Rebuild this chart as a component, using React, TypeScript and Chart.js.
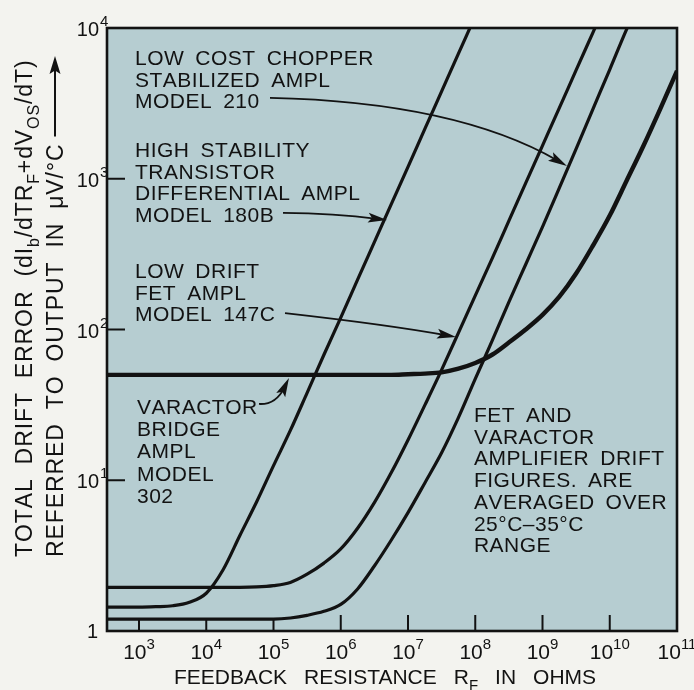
import React, { useEffect, useRef } from "react";
import { Chart, registerables } from "chart.js";

Chart.register(...registerables);

// Feedback resistance (ohms), quarter-decade steps from 10^2.52 to 10^11
const R_OHMS = [
  331, 562, 1e3, 1.78e3, 3.16e3, 5.62e3, 1e4, 1.78e4, 3.16e4, 5.62e4,
  1e5, 1.78e5, 3.16e5, 5.62e5, 1e6, 1.78e6, 3.16e6, 5.62e6, 1e7, 1.78e7,
  3.16e7, 5.62e7, 1e8, 1.78e8, 3.16e8, 5.62e8, 1e9, 1.78e9, 3.16e9, 5.62e9,
  1e10, 1.78e10, 3.16e10, 5.62e10, 1e11,
];

// Total drift error (uV/degC)
const MODEL_180B = [
  1.44, 1.44, 1.44, 1.45, 1.47, 1.55, 1.78, 2.55, 4.3, 7.2,
  12.5, 21.4, 38, 68, 120, 214, 380, 676, 1200, 2140,
  3800, 6760, 12000, 21400, null, null, null, null, null, null,
  null, null, null, null, null,
];
const MODEL_147C = [
  1.95, 1.95, 1.95, 1.95, 1.95, 1.95, 1.95, 1.95, 1.95, 1.96,
  2.0, 2.1, 2.38, 2.82, 3.5, 4.8, 7.1, 11.2, 18.5, 31.5,
  54, 95, 168, 295, 525, 935, 1660, 2950, 5250, 9330,
  16600, 29500, null, null, null,
];
const MODEL_210 = [
  1.2, 1.2, 1.2, 1.2, 1.2, 1.2, 1.2, 1.2, 1.2, 1.2,
  1.2, 1.22, 1.27, 1.35, 1.5, 1.9, 2.7, 4.0, 6.1, 9.6,
  15.2, 26, 47, 84, 152, 270, 480, 870, 1580, 2900,
  5300, 9800, 17000, null, null,
];
const VARACTOR_302 = [
  50, 50, 50, 50, 50, 50, 50, 50, 50, 50,
  50, 50, 50, 50, 50, 50, 50, 50, 50.5, 51,
  52, 55, 60, 68, 82, 100, 125, 165, 235, 360,
  570, 970, 1650, 2900, 5200,
];

const X_DECADES = [3, 4, 5, 6, 7, 8, 9, 10, 11];
const Y_DECADES = [0, 1, 2, 3, 4];

const FONT = '"Liberation Sans", Arial, sans-serif';
const INK = "#121212";
const PAGE_BG = "#f3f3ef";
const PLOT_BG = "#b6cdd1";

// Annotation text blocks, anchored in log10 data units (first line baseline)
const LABEL_BLOCKS = [
  { lx: 2.94, ly: 3.755, pitch: 21.7, lines: ["LOW COST CHOPPER", "STABILIZED AMPL", "MODEL 210"] },
  { lx: 2.94, ly: 3.144, pitch: 21.7, lines: ["HIGH STABILITY", "TRANSISTOR", "DIFFERENTIAL AMPL", "MODEL 180B"] },
  { lx: 2.94, ly: 2.342, pitch: 21.7, lines: ["LOW DRIFT", "FET AMPL", "MODEL 147C"] },
  { lx: 2.97, ly: 1.44, pitch: 22.2, lines: ["VARACTOR", "BRIDGE", "AMPL", "MODEL", "302"] },
  { lx: 7.98, ly: 1.386, pitch: 21.7, lines: ["FET AND", "VARACTOR", "AMPLIFIER DRIFT", "FIGURES. ARE", "AVERAGED OVER", "25°C–35°C", "RANGE"] },
];

// Leader arrows: start, middle, tip (log10 data units)
const ARROWS = [
  [[4.948, 3.536], [7.431, 3.41], [9.364, 3.085]],
  [[5.141, 2.773], [5.914, 2.76], [6.688, 2.726]],
  [[5.171, 2.109], [6.584, 2.03], [7.714, 1.95]],
  [[4.784, 1.506], [5.022, 1.546], [5.23, 1.678]],
];

type Run = { t: string; k?: "sub" | "sup" };

const Y_TITLE_1: Run[] = [
  { t: "TOTAL DRIFT ERROR (dI" }, { t: "b", k: "sub" }, { t: "/dTR" }, { t: "F", k: "sub" },
  { t: "+dV" }, { t: "OS", k: "sub" }, { t: "/dT)" },
];
const Y_TITLE_2: Run[] = [{ t: "REFERRED TO OUTPUT IN μV/°C" }];
const X_TITLE: Run[] = [{ t: "FEEDBACK RESISTANCE R" }, { t: "F", k: "sub" }, { t: " IN OHMS" }];

function wordWidth(ctx: CanvasRenderingContext2D, wd: string, ls: number) {
  if (!ls) return ctx.measureText(wd).width;
  let w = 0;
  for (const ch of wd) w += ctx.measureText(ch).width + ls;
  return w;
}

function drawWord(ctx: CanvasRenderingContext2D, wd: string, x: number, y: number, ls: number) {
  if (!ls) {
    ctx.fillText(wd, x, y);
    return;
  }
  let cx = x;
  for (const ch of wd) {
    ctx.fillText(ch, cx, y);
    cx += ctx.measureText(ch).width + ls;
  }
}

function runWidth(ctx: CanvasRenderingContext2D, t: string, space: number, ls: number) {
  let w = 0;
  t.split(" ").forEach((wd, i) => {
    if (i > 0) w += space;
    if (wd) w += wordWidth(ctx, wd, ls);
  });
  return w;
}

function drawRuns(
  ctx: CanvasRenderingContext2D,
  runs: Run[],
  x: number,
  y: number,
  size: number,
  small: number,
  align: "left" | "center" | "right",
  space: number,
  ls = 0
) {
  const fontFor = (r: Run) => `${r.k ? small : size}px ${FONT}`;
  const widths = runs.map((r) => {
    ctx.font = fontFor(r);
    return runWidth(ctx, r.t, r.k ? space * 0.7 : space, ls);
  });
  const total = widths.reduce((a, b) => a + b, 0);
  let cx = align === "center" ? x - total / 2 : align === "right" ? x - total : x;
  ctx.textAlign = "left";
  ctx.textBaseline = "alphabetic";
  runs.forEach((r, i) => {
    ctx.font = fontFor(r);
    const dy = r.k === "sub" ? size * 0.3 : r.k === "sup" ? -size * 0.5 : 0;
    const sp = r.k ? space * 0.7 : space;
    let wx = cx;
    r.t.split(" ").forEach((wd, j) => {
      if (j > 0) wx += sp;
      if (wd) {
        drawWord(ctx, wd, wx, y + dy, ls);
        wx += wordWidth(ctx, wd, ls);
      }
    });
    cx += widths[i];
  });
  return total;
}

function arrowHead(ctx: CanvasRenderingContext2D, tx: number, ty: number, ang: number, len: number, hw: number) {
  const c = Math.cos(ang), s = Math.sin(ang);
  ctx.beginPath();
  ctx.moveTo(tx, ty);
  ctx.lineTo(tx - len * c - hw * s, ty - len * s + hw * c);
  ctx.lineTo(tx - len * c * 0.8, ty - len * s * 0.8);
  ctx.lineTo(tx - len * c + hw * s, ty - len * s - hw * c);
  ctx.closePath();
  ctx.fill();
}

const paperPlugin = {
  id: "paper",
  beforeDraw(chart: any) {
    const { ctx, chartArea: a, width, height } = chart;
    ctx.save();
    ctx.fillStyle = PAGE_BG;
    ctx.fillRect(0, 0, width, height);
    ctx.fillStyle = PLOT_BG;
    ctx.fillRect(a.left, a.top, a.right - a.left, a.bottom - a.top);
    ctx.restore();
  },
  afterDatasetsDraw(chart: any) {
    const { ctx, chartArea: a } = chart;
    const xs = chart.scales.x;
    const ys = chart.scales.y;
    const px = (lx: number) => xs.getPixelForValue(Math.pow(10, lx));
    const py = (ly: number) => ys.getPixelForValue(Math.pow(10, ly));
    ctx.save();
    ctx.fillStyle = INK;
    ctx.strokeStyle = INK;

    // frame
    ctx.lineWidth = 2.6;
    ctx.strokeRect(a.left, a.top, a.right - a.left, a.bottom - a.top);

    // inward ticks
    ctx.lineWidth = 2;
    X_DECADES.forEach((e) => {
      const x = px(e);
      if (x > a.right - 3) return;
      ctx.beginPath();
      ctx.moveTo(x, a.bottom);
      ctx.lineTo(x, a.bottom - (e <= 5 ? 11 : 16));
      ctx.stroke();
    });
    Y_DECADES.forEach((e) => {
      const y = py(e);
      if (y > a.bottom - 3 || y < a.top + 3) return;
      ctx.beginPath();
      ctx.moveTo(a.left, y);
      ctx.lineTo(a.left + 18, y);
      ctx.stroke();
    });

    // x tick labels
    X_DECADES.forEach((e) => {
      const x = px(e);
      drawRuns(ctx, [{ t: "10" }, { t: String(e), k: "sup" }], x, a.bottom + 28, 21, 15, "center", 0);
    });
    // y tick labels
    Y_DECADES.forEach((e) => {
      const y = py(e);
      ctx.textAlign = "right";
      ctx.textBaseline = "alphabetic";
      ctx.font = `20px ${FONT}`;
      if (e === 0) {
        ctx.fillText("1", a.left - 9, y + 7);
        return;
      }
      ctx.fillText("10", a.left - 8, y + 8);
      ctx.textAlign = "left";
      ctx.font = `15px ${FONT}`;
      ctx.fillText(String(e), a.left - 7, y - 2);
    });

    // axis titles
    drawRuns(ctx, X_TITLE, 385, a.bottom + 53, 21, 15, "center", 17);
    ctx.save();
    ctx.translate(32, 557);
    ctx.rotate(-Math.PI / 2);
    drawRuns(ctx, Y_TITLE_1, 0, 0, 23, 16, "left", 14, 0.9);
    ctx.restore();
    ctx.save();
    ctx.translate(63, 557);
    ctx.rotate(-Math.PI / 2);
    const w2 = drawRuns(ctx, Y_TITLE_2, 0, 0, 23, 16, "left", 14, 0.9);
    ctx.restore();
    const arrowX = 55;
    ctx.lineWidth = 2;
    ctx.beginPath();
    ctx.moveTo(arrowX, 557 - w2 - 7);
    ctx.lineTo(arrowX, 70);
    ctx.stroke();
    arrowHead(ctx, arrowX, 56, -Math.PI / 2, 18, 5.5);

    // text blocks
    LABEL_BLOCKS.forEach((b) => {
      const x = px(b.lx);
      const y0 = py(b.ly);
      b.lines.forEach((ln, i) => {
        drawRuns(ctx, [{ t: ln }], x, y0 + i * b.pitch, 21, 15, "left", 11, 0.5);
      });
    });

    // leader arrows
    ctx.lineWidth = 1.8;
    ARROWS.forEach((pts) => {
      const P = pts.map(([lx, ly]) => [px(lx), py(ly)]);
      const C = [2 * P[1][0] - (P[0][0] + P[2][0]) / 2, 2 * P[1][1] - (P[0][1] + P[2][1]) / 2];
      const ang = Math.atan2(P[2][1] - C[1], P[2][0] - C[0]);
      const endX = P[2][0] - 10 * Math.cos(ang);
      const endY = P[2][1] - 10 * Math.sin(ang);
      ctx.beginPath();
      ctx.moveTo(P[0][0], P[0][1]);
      ctx.quadraticCurveTo(C[0], C[1], endX, endY);
      ctx.stroke();
      arrowHead(ctx, P[2][0], P[2][1], ang, 19, 5);
    });
    ctx.restore();
  },
};

function series(values: (number | null)[]) {
  const out: { x: number; y: number }[] = [];
  R_OHMS.forEach((r, i) => {
    const v = values[i];
    if (v != null) out.push({ x: r, y: v });
  });
  return out;
}

export default function App() {
  const ref = useRef<HTMLCanvasElement>(null);
  useEffect(() => {
    document.body.style.margin = "0";
    document.body.style.background = PAGE_BG;
    const canvas = ref.current!;
    const common = {
      borderColor: INK,
      pointRadius: 0,
      fill: false,
      cubicInterpolationMode: "monotone" as const,
    };
    const chart = new Chart(canvas, {
      type: "line",
      data: {
        datasets: [
          { label: "Model 180B", data: series(MODEL_180B), borderWidth: 3.2, ...common },
          { label: "Model 147C", data: series(MODEL_147C), borderWidth: 3.2, ...common },
          { label: "Model 210", data: series(MODEL_210), borderWidth: 3.2, ...common },
          { label: "Model 302", data: series(VARACTOR_302), borderWidth: 4.4, ...common },
        ],
      },
      options: {
        animation: false,
        responsive: false,
        maintainAspectRatio: false,
        events: [],
        layout: { padding: { left: 107, top: 28, right: 17, bottom: 59 } },
        scales: {
          x: { type: "logarithmic", min: Math.pow(10, 2.524), max: 1e11, display: false },
          y: { type: "logarithmic", min: 1, max: 1e4, display: false },
        },
        plugins: { legend: { display: false }, tooltip: { enabled: false } },
        elements: { point: { radius: 0 } },
      },
      plugins: [paperPlugin],
    } as any);
    return () => chart.destroy();
  }, []);
  return (
    <div style={{ width: 694, height: 690, background: PAGE_BG, overflow: "hidden" }}>
      <canvas ref={ref} width={694} height={690} style={{ display: "block", width: 694, height: 690 }} />
    </div>
  );
}
